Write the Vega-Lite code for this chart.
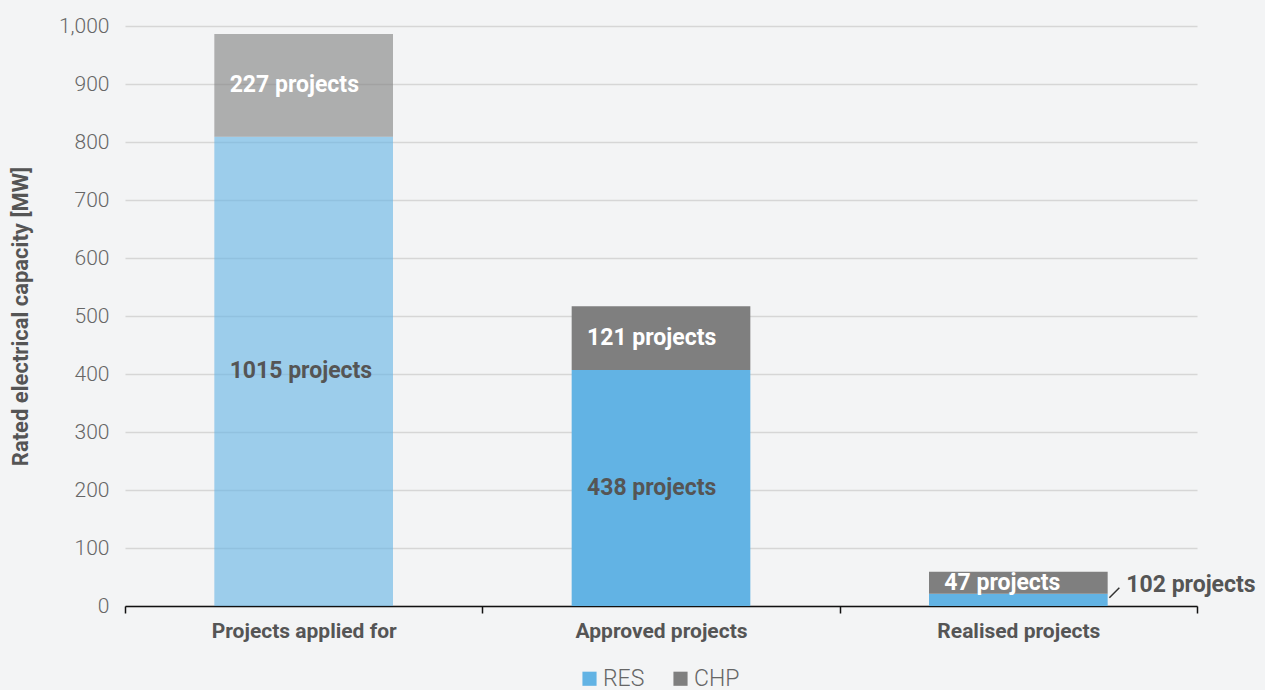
{
  "$schema": "https://vega.github.io/schema/vega-lite/v6.json",
  "width": 1072,
  "height": 580,
  "autosize": {"type": "none"},
  "padding": {"left": 125, "top": 26, "right": 68, "bottom": 84},
  "background": "#f3f4f5",
  "config": {
    "view": {"stroke": null},
    "font": "Roboto"
  },
  "data": {
    "values": [
      {"stage": "Projects applied for", "type": "RES", "mw": 809, "projects": 1015},
      {"stage": "Projects applied for", "type": "CHP", "mw": 177, "projects": 227},
      {"stage": "Approved projects", "type": "RES", "mw": 407, "projects": 438},
      {"stage": "Approved projects", "type": "CHP", "mw": 110, "projects": 121},
      {"stage": "Realised projects", "type": "RES", "mw": 21, "projects": 102},
      {"stage": "Realised projects", "type": "CHP", "mw": 38, "projects": 47}
    ]
  },
  "transform": [
    {"stack": "mw", "groupby": ["stage"], "sort": [{"field": "type", "order": "descending"}], "as": ["y0", "y1"]},
    {"calculate": "(datum.y0 + datum.y1) / 2", "as": "mid"},
    {"calculate": "datum.projects + ' projects'", "as": "label"}
  ],
  "encoding": {
    "x": {
      "field": "stage",
      "type": "nominal",
      "sort": ["Projects applied for", "Approved projects", "Realised projects"],
      "scale": {"paddingInner": 0, "paddingOuter": 0},
      "axis": {
        "title": null,
        "labelAngle": 0,
        "labelLimit": 400,
        "labelFont": "Roboto",
        "labelFontSize": 21,
        "labelFontWeight": "bold",
        "labelColor": "#555555",
        "labelPadding": 7,
        "domainColor": "#111111",
        "domainWidth": 1.5,
        "tickColor": "#111111",
        "tickWidth": 1.5,
        "tickSize": 7,
        "tickBand": "extent",
        "grid": false
      }
    }
  },
  "layer": [
    {
      "mark": {"type": "bar", "width": {"band": 0.5}},
      "encoding": {
        "y": {
          "field": "y1",
          "type": "quantitative",
          "scale": {"domain": [0, 1000], "nice": false},
          "axis": {
            "title": "Rated electrical capacity [MW]",
            "titleFont": "Roboto",
            "titleFontSize": 22,
            "titleFontWeight": "bold",
            "titleColor": "#555555",
            "titlePadding": 26,
            "titleLimit": 600,
            "values": [0, 100, 200, 300, 400, 500, 600, 700, 800, 900, 1000],
            "format": ",d",
            "labelFont": "Roboto",
            "labelFontSize": 21,
            "labelFontWeight": 300,
            "labelColor": "#666666",
            "labelPadding": 16,
            "domain": false,
            "ticks": false,
            "grid": true,
            "gridColor": "#d6d6d6",
            "gridWidth": 1.5
          }
        },
        "y2": {"field": "y0"},
        "color": {
          "field": "type",
          "type": "nominal",
          "scale": {"domain": ["RES", "CHP"], "range": ["#62b3e4", "#7f7f7f"]},
          "legend": {
            "title": null,
            "orient": "none",
            "direction": "horizontal",
            "legendX": 453,
            "legendY": 641,
            "symbolType": "square",
            "symbolSize": 200,
            "symbolOpacity": 1,
            "labelFont": "Roboto",
            "labelFontSize": 23,
            "labelFontWeight": 300,
            "labelColor": "#666666",
            "labelOffset": 2,
            "columnPadding": 24
          }
        },
        "opacity": {
          "condition": {"test": "datum.stage == 'Projects applied for'", "value": 0.6},
          "value": 1
        }
      }
    },
    {
      "transform": [{"filter": "datum.type == 'CHP'"}],
      "mark": {"type": "text", "align": "left", "baseline": "middle", "dx": -74, "font": "Roboto", "fontSize": 23, "fontWeight": "bold", "color": "#ffffff"},
      "encoding": {
        "y": {"field": "mid", "type": "quantitative"},
        "text": {"field": "label"}
      }
    },
    {
      "transform": [{"filter": "datum.type == 'RES' && datum.stage != 'Realised projects'"}],
      "mark": {"type": "text", "align": "left", "baseline": "middle", "dx": -74, "font": "Roboto", "fontSize": 23, "fontWeight": "bold", "color": "#555555"},
      "encoding": {
        "y": {"field": "mid", "type": "quantitative"},
        "text": {"field": "label"}
      }
    },
    {
      "transform": [{"filter": "datum.type == 'RES' && datum.stage == 'Realised projects'"}],
      "mark": {"type": "text", "align": "left", "baseline": "middle", "dx": 108, "dy": -9, "font": "Roboto", "fontSize": 23, "fontWeight": "bold", "color": "#555555"},
      "encoding": {
        "y": {"field": "y1", "type": "quantitative"},
        "text": {"field": "label"}
      }
    },
    {
      "transform": [{"filter": "datum.type == 'RES' && datum.stage == 'Realised projects'"}],
      "mark": {"type": "rule", "color": "#333333", "strokeWidth": 1.5, "xOffset": 91, "x2Offset": 101, "yOffset": 4, "y2Offset": -6},
      "encoding": {
        "x2": {"field": "stage"},
        "y": {"field": "y1", "type": "quantitative"},
        "y2": {"field": "y1"}
      }
    }
  ]
}
